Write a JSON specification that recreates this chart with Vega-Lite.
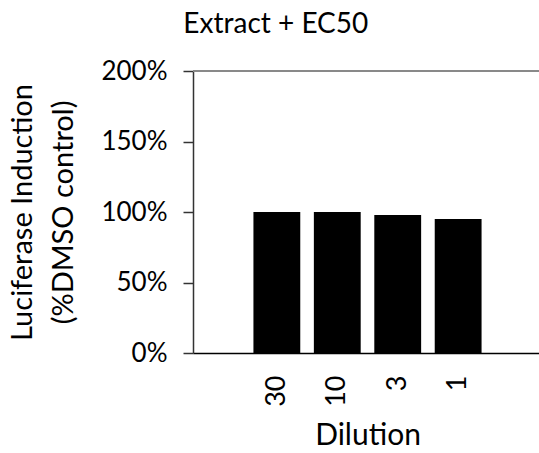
{
  "$schema": "https://vega.github.io/schema/vega-lite/v6.json",
  "autosize": "none",
  "width": 349,
  "height": 282,
  "padding": {"left": 193, "top": 71, "right": 1, "bottom": 100},
  "background": "white",
  "title": {
    "text": "Extract + EC50",
    "frame": "bounds",
    "anchor": "middle",
    "font": "Lato",
    "fontSize": 28,
    "fontWeight": "normal",
    "color": "black",
    "offset": 19
  },
  "config": {
    "view": {"stroke": null},
    "font": "Lato"
  },
  "data": {
    "values": [
      {"Dilution": "30", "Induction": 1.0},
      {"Dilution": "10", "Induction": 1.0},
      {"Dilution": "3", "Induction": 0.979},
      {"Dilution": "1", "Induction": 0.95}
    ]
  },
  "layer": [
    {
      "mark": {"type": "bar", "color": "black"},
      "encoding": {
        "x": {
          "field": "Dilution",
          "type": "ordinal",
          "sort": null,
          "scale": {"paddingInner": 0.225, "paddingOuter": 1.086},
          "axis": {
            "title": "Dilution",
            "titleFont": "Lato",
            "titleFontSize": 30,
            "titleFontWeight": "normal",
            "titleColor": "black",
            "titlePadding": 14,
            "labelAngle": -90,
            "labelFont": "Lato",
            "labelFontSize": 27,
            "labelColor": "black",
            "labelPadding": 22,
            "ticks": false,
            "domainColor": "black",
            "domainWidth": 1.5
          }
        },
        "y": {
          "field": "Induction",
          "type": "quantitative",
          "scale": {"domain": [0, 2]},
          "axis": {
            "title": ["Luciferase Induction", "(%DMSO control)"],
            "titleFont": "Lato",
            "titleFontSize": 29,
            "titleFontWeight": "normal",
            "titleColor": "black",
            "titleLineHeight": 41,
            "titlePadding": 22,
            "values": [0, 0.5, 1, 1.5, 2],
            "format": ".0%",
            "labelFont": "Lato",
            "labelFontSize": 26,
            "labelColor": "black",
            "labelPadding": 16,
            "tickSize": 10,
            "tickColor": "#333",
            "tickWidth": 1.5,
            "domainColor": "#333",
            "domainWidth": 1.5,
            "grid": false
          }
        }
      }
    },
    {
      "mark": {"type": "rule", "color": "#888", "strokeWidth": 1.5},
      "encoding": {"y": {"datum": 2}}
    }
  ]
}
